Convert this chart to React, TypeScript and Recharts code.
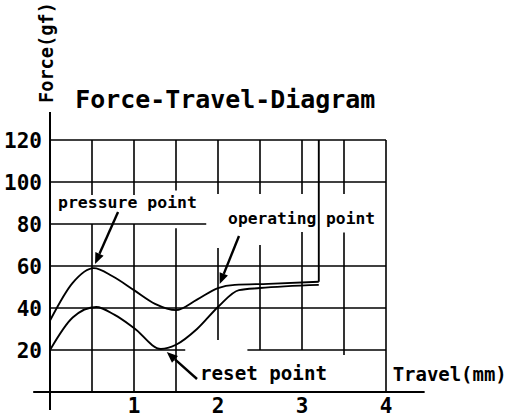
import React from 'react';
import { LineChart, Line, XAxis, YAxis, ReferenceLine, ReferenceDot } from 'recharts';

const FONT = '"DejaVu Sans Mono", "Liberation Mono", monospace';

const xTicks = [1, 2, 3, 4];
const yTicks = [20, 40, 60, 80, 100, 120];

// pressing (upper) curve
const pressX = [0, 0.27, 0.52, 0.75, 1.0, 1.25, 1.5, 1.75, 2.0, 2.2, 2.6, 3.2];
const pressY = [34, 52, 59, 55, 48.5, 42, 39, 44, 49.5, 51, 51.5, 52.5];
// releasing (lower) curve
const releaseX = [0, 0.27, 0.55, 0.77, 1.0, 1.32, 1.5, 1.75, 2.0, 2.25, 2.5, 3.2];
const releaseY = [20, 35.5, 40.5, 36.7, 30.5, 20.5, 22.5, 30, 40.5, 48.5, 49.5, 51];
// bottom-out vertical
const bottomX = [3.2, 3.2];
const bottomY = [52.5, 120];

const pressData = pressX.map((x, i) => ({ x, y: pressY[i] }));
const releaseData = releaseX.map((x, i) => ({ x, y: releaseY[i] }));
const bottomData = bottomX.map((x, i) => ({ x, y: bottomY[i] }));

// grid segments (with gaps around labels), in data units
const hGrid: [number, number, number][] = [
  [120, 0, 4], [100, 0, 4], [80, 0, 1.86], [60, 0, 4], [40, 0, 4], [20, 0, 1.61], [20, 2.35, 4],
];
const vGrid: [number, number, number][] = [
  [0.5, 93.8, 120], [0.5, 0, 80],
  [1.0, 93.8, 120], [1.0, 0, 80],
  [1.5, 96, 120], [1.5, 0, 78],
  [2.0, 94.3, 120], [2.0, 24.8, 68.6],
  [2.5, 94.3, 120], [2.5, 20, 70],
  [3.0, 94.3, 120], [3.0, 20, 76.2],
  [3.5, 94.3, 120], [3.5, 17.6, 76],
  [4.0, 0, 120],
];

// arrows: [fromX, fromY, toX, toY]
const arrows: [number, number, number, number][] = [
  [0.81, 85.7, 0.536, 61],
  [2.25, 74.3, 2.02, 51.4],
  [1.75, 6.2, 1.39, 19],
];

// text labels: text, x, y, fontSize, textLength, rotated
const labels: [string, number, number, number, number, boolean][] = [
  ['Force-Travel-Diagram', 0.3, 135.2, 25, 300, false],
  ['Force(gf)', 0.036, 137.6, 19, 101, true],
  ['pressure point', 0.095, 87.6, 16.5, 139, false],
  ['operating point', 2.12, 80, 16.5, 147, false],
  ['reset point', 1.786, 5.7, 19, 127, false],
  ['Travel(mm)', 4.08, 5.2, 19, 114, false],
];

const ArrowShape = (p: any) => {
  const { x1, y1, x2, y2 } = p;
  const ang = Math.atan2(y2 - y1, x2 - x1);
  const L = 11;
  const W = 4.5;
  const bx = x2 - L * Math.cos(ang);
  const by = y2 - L * Math.sin(ang);
  const px = -Math.sin(ang) * W;
  const py = Math.cos(ang) * W;
  return (
    <g>
      <line x1={x1} y1={y1} x2={bx} y2={by} stroke="#000" strokeWidth={2.4} />
      <polygon points={`${x2},${y2} ${bx + px},${by + py} ${bx - px},${by - py}`} fill="#000" />
    </g>
  );
};

const makeText = (text: string, size: number, len: number, rotate: boolean) => (p: any) => (
  <text
    x={p.cx}
    y={p.cy}
    fontFamily={FONT}
    fontWeight="bold"
    fontSize={size}
    textLength={len}
    lengthAdjust="spacingAndGlyphs"
    fill="#000"
    transform={rotate ? `rotate(-90 ${p.cx} ${p.cy})` : undefined}
  >
    {text}
  </text>
);

const YTick = (p: any) => (
  <text x={p.x - 8} y={p.y + 8} textAnchor="end" fontFamily={FONT} fontWeight="bold" fontSize={21} fill="#000">
    {p.payload.value}
  </text>
);
const XTick = (p: any) => (
  <text x={p.x} y={p.y + 21} textAnchor="middle" fontFamily={FONT} fontWeight="bold" fontSize={21} fill="#000">
    {p.payload.value}
  </text>
);

export default function App() {
  return (
    <div style={{ position: 'absolute', left: 0, top: 0, background: '#fff' }}>
      <LineChart width={512} height={420} margin={{ top: 140, right: 126, left: 0, bottom: 0 }}>
        <XAxis
          type="number"
          dataKey="x"
          domain={[0, 4]}
          ticks={xTicks}
          allowDataOverflow
          axisLine={false}
          tickLine={false}
          tickSize={0}
          tickMargin={0}
          height={28}
          tick={<XTick />}
        />
        <YAxis
          type="number"
          dataKey="y"
          domain={[0, 120]}
          ticks={yTicks}
          allowDataOverflow
          axisLine={false}
          tickLine={false}
          tickSize={0}
          tickMargin={0}
          width={50}
          tick={<YTick />}
        />
        {hGrid.map(([y, a, b], i) => (
          <ReferenceLine key={'h' + i} segment={[{ x: a, y }, { x: b, y }]} stroke="#000" strokeWidth={1.6} ifOverflow="visible" />
        ))}
        {vGrid.map(([x, a, b], i) => (
          <ReferenceLine key={'v' + i} segment={[{ x, y: a }, { x, y: b }]} stroke="#000" strokeWidth={1.6} ifOverflow="visible" />
        ))}
        <ReferenceLine segment={[{ x: 0, y: -8.6 }, { x: 0, y: 133.3 }]} stroke="#000" strokeWidth={2} ifOverflow="visible" />
        <ReferenceLine segment={[{ x: -0.2, y: 0 }, { x: 4.46, y: 0 }]} stroke="#000" strokeWidth={2} ifOverflow="visible" />
        {arrows.map(([a, b, c, d], i) => (
          <ReferenceLine key={'a' + i} segment={[{ x: a, y: b }, { x: c, y: d }]} ifOverflow="visible" shape={ArrowShape} />
        ))}
        <Line data={pressData} dataKey="y" type="monotone" stroke="#000" strokeWidth={1.9} dot={false} isAnimationActive={false} />
        <Line data={releaseData} dataKey="y" type="monotone" stroke="#000" strokeWidth={1.9} dot={false} isAnimationActive={false} />
        <Line data={bottomData} dataKey="y" type="linear" stroke="#000" strokeWidth={1.9} dot={false} isAnimationActive={false} />
        {labels.map(([t, x, y, s, len, rot], i) => (
          <ReferenceDot key={'t' + i} x={x} y={y} r={0} ifOverflow="visible" shape={makeText(t, s, len, rot)} />
        ))}
      </LineChart>
    </div>
  );
}
